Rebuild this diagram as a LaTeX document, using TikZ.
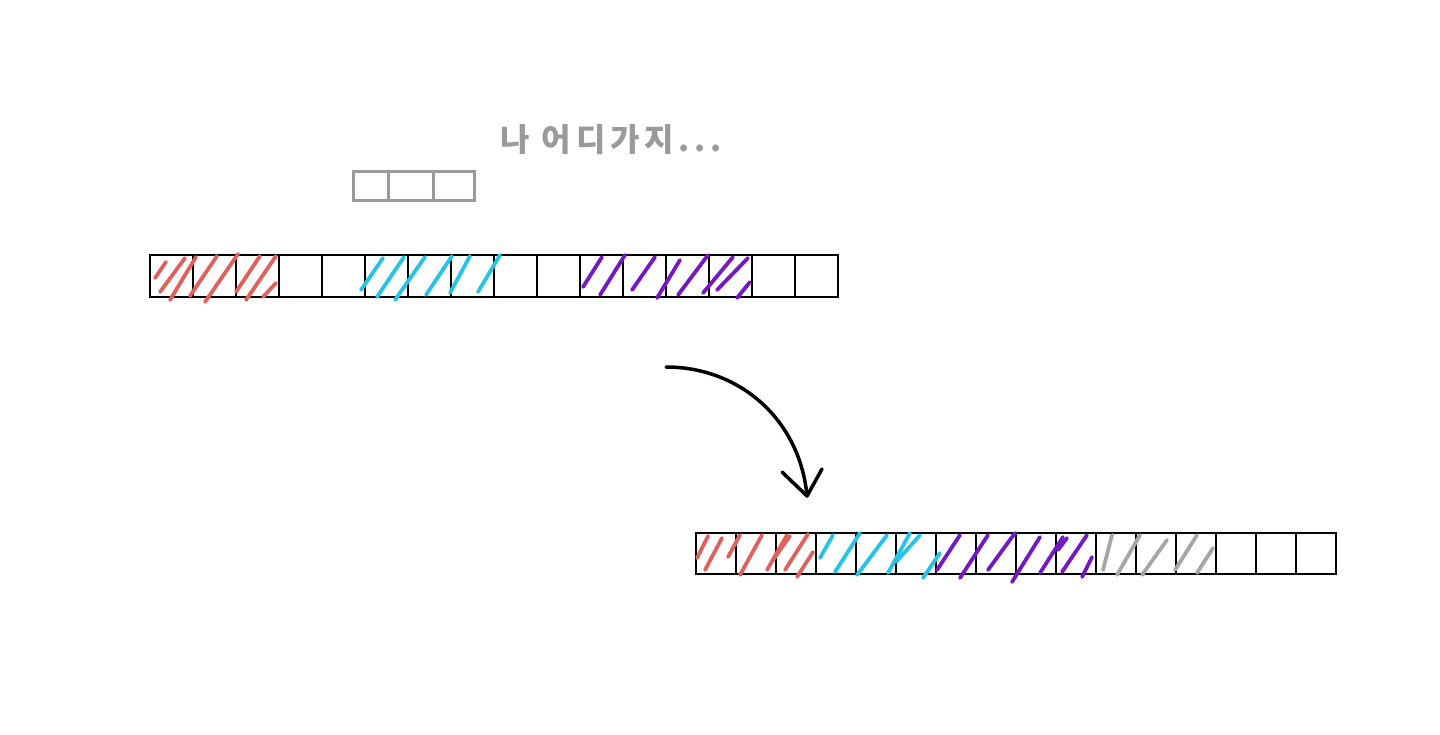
\documentclass[tikz,border=0pt]{standalone}
\usepackage{fontspec}
\newfontfamily\krfont{Noto Sans CJK KR}[LetterSpace=15]
\definecolor{hred}{HTML}{E0605C}
\definecolor{hcyan}{HTML}{25C3E6}
\definecolor{hpurple}{HTML}{7418C4}
\definecolor{hgray}{HTML}{A6A6A6}
\definecolor{tgray}{HTML}{9A9A9A}
\begin{document}
\begin{tikzpicture}[x=1pt,y=-1pt,
  cellbox/.style={draw=black,line width=2pt},
  smallbox/.style={draw=tgray,line width=3pt},
  hatch/.style={line width=3.8pt,line cap=round},
  arrowline/.style={draw=black,line width=3.5pt,line cap=round,line join=round},
  msgtext/.style={text=tgray,font=\krfont\bfseries\fontsize{32}{32}\selectfont,inner sep=0pt}
]
\useasboundingbox (0,0) rectangle (1440,735);

% message
\node[msgtext,anchor=west] (msg) at (500,140) {나 어디가지...};

% small gray block
\draw[smallbox] (353,172) rectangle (474,201);
\draw[smallbox] (388,172) -- (388,201);
\draw[smallbox] (433,172) -- (433,201);

% top bar cells
\foreach \i in {0,...,15} \draw[cellbox] ({150+43*\i},255) rectangle ++(43,42);

% top hatches: red
\foreach \a/\b/\c/\d in {155/278/166/262, 160/292/185/258, 170/300/196/257, 190/296/217/256,
  205/302/238/254, 236/292/260/256, 246/300/276/256, 263/297/276/283}
  \draw[hatch,hred] (\a,\b) -- (\c,\d);
% top hatches: cyan
\foreach \a/\b/\c/\d in {361/290/383/258, 377/297/404/257, 395/300/425/257,
  426/295/452/256, 450/293/470/256, 478/292/500/255}
  \draw[hatch,hcyan] (\a,\b) -- (\c,\d);
% top hatches: purple
\foreach \a/\b/\c/\d in {583/287/602/257, 600/295/625/255, 632/290/655/257, 657/298/680/260,
  678/295/708/255, 703/293/733/257, 717/290/748/258, 737/298/750/282}
  \draw[hatch,hpurple] (\a,\b) -- (\c,\d);

% arrow
\coordinate (arrS) at (666,367);
\coordinate (arrE) at (807,496);
\draw[arrowline] (arrS) .. controls (740,367) and (800,420) .. (arrE);
\draw[arrowline] (782,472) -- (arrE) -- (822,469);

% bottom bar cells
\foreach \i in {0,...,15} \draw[cellbox] ({696+40*\i},533) rectangle ++(40,41);

% bottom hatches: red
\foreach \a/\b/\c/\d in {697/558/708/536, 705/570/722/538, 728/557/740/535, 740/575/762/535,
  767/570/787/535, 773/560/790/536, 785/570/808/534, 797/577/813/552}
  \draw[hatch,hred] (\a,\b) -- (\c,\d);
% bottom hatches: cyan
\foreach \a/\b/\c/\d in {820/558/833/535, 835/572/860/533, 857/575/887/535,
  888/573/910/533, 896/562/920/535, 923/578/940/553}
  \draw[hatch,hcyan] (\a,\b) -- (\c,\d);
% bottom hatches: purple
\foreach \a/\b/\c/\d in {937/570/960/535, 960/578/988/535, 988/570/1015/533, 1012/582/1040/537,
  1040/573/1063/537, 1062/572/1087/535, 1058/550/1067/538, 1082/577/1092/557}
  \draw[hatch,hpurple] (\a,\b) -- (\c,\d);
% bottom hatches: gray
\foreach \a/\b/\c/\d in {1103/570/1112/535, 1117/575/1140/535, 1142/575/1167/540,
  1175/570/1197/535, 1197/573/1213/548}
  \draw[hatch,hgray] (\a,\b) -- (\c,\d);
\end{tikzpicture}
\end{document}
